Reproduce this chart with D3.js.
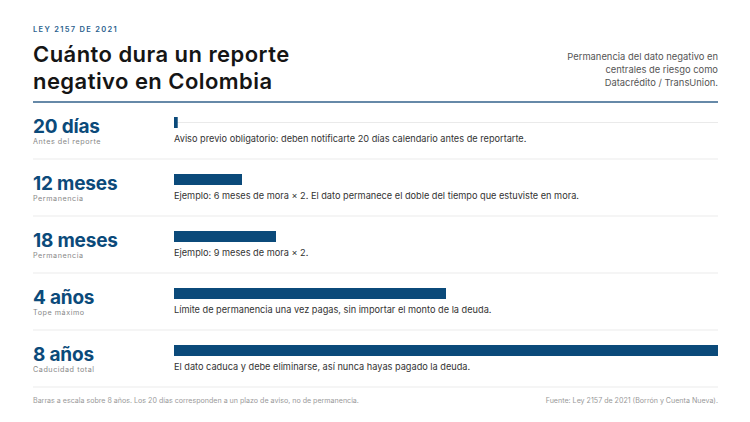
<!DOCTYPE html>
<html><head><meta charset="utf-8">
<script src="https://cdn.jsdelivr.net/npm/d3@7/dist/d3.min.js"></script>
<style>
html,body{margin:0;padding:0;background:#fff;}
svg{display:block;font-family:Inter, "Open Sans", sans-serif;}
</style></head>
<body><svg id="c" width="750" height="422"></svg>
<script>
const valueLabels = ["20 días","12 meses","18 meses","4 años","8 años"];
const subLabels = ["Antes del reporte","Permanencia","Permanencia","Tope máximo","Caducidad total"];
const yearsValues = [20/365, 1, 1.5, 4, 8];
const descriptions = [
  "Aviso previo obligatorio: deben notificarte 20 días calendario antes de reportarte.",
  "Ejemplo: 6 meses de mora × 2. El dato permanece el doble del tiempo que estuviste en mora.",
  "Ejemplo: 9 meses de mora × 2.",
  "Límite de permanencia una vez pagas, sin importar el monto de la deuda.",
  "El dato caduca y debe eliminarse, así nunca hayas pagado la deuda."
];
const kicker = "LEY 2157 DE 2021";
const titleLines = ["Cuánto dura un reporte","negativo en Colombia"];
const noteLines = ["Permanencia del dato negativo en","centrales de riesgo como","Datacrédito / TransUnion."];
const footLeft = "Barras a escala sobre 8 años. Los 20 días corresponden a un plazo de aviso, no de permanencia.";
const footRight = "Fuente: Ley 2157 de 2021 (Borrón y Cuenta Nueva).";

const svg = d3.select("#c");
const L = 33, R = 718, BX = 174;
const blue = "#0b4a7a";

svg.append("text").attr("x",L).attr("y",31.5).text(kicker)
  .attr("font-size",7.5).attr("font-weight",600).attr("letter-spacing",1.3).attr("fill","#2b5f8e");
const title = svg.append("text").attr("x",L).attr("y",61.5)
  .attr("font-size",22).attr("font-weight",600).attr("letter-spacing",0.45).attr("fill","#151515");
titleLines.forEach((t,i)=>title.append("tspan").attr("x",L).attr("dy",i===0?0:27).text(t));
const note = svg.append("text").attr("x",R).attr("y",60)
  .attr("text-anchor","end").attr("font-size",9.4).attr("fill","#555");
noteLines.forEach((t,i)=>note.append("tspan").attr("x",R).attr("dy",i===0?0:13).text(t));
svg.append("rect").attr("x",L).attr("y",101).attr("width",R-L).attr("height",2).attr("fill","#6689a8");

const x = d3.scaleLinear().domain([0,8]).range([BX,R]);
const y = d3.scaleBand().domain(d3.range(valueLabels.length)).range([102,387]).padding(0);
const rowH = y.bandwidth();

const rows = svg.selectAll("g.row").data(valueLabels).join("g").attr("class","row")
  .attr("transform",(d,i)=>`translate(0,${y(i)})`);

rows.append("line").attr("x1",L).attr("x2",R).attr("y1",rowH).attr("y2",rowH)
  .attr("stroke","#ebebeb").attr("stroke-width",1);

// track line for the notice row
rows.filter((d,i)=>i===0).append("line").attr("x1",BX).attr("x2",R).attr("y1",20.5).attr("y2",20.5)
  .attr("stroke","#eaeaea").attr("stroke-width",1);

rows.append("rect").attr("x",BX).attr("y",15).attr("height",11)
  .attr("width",(d,i)=>Math.max(3.5, x(yearsValues[i])-BX)).attr("fill",blue);

rows.append("text").attr("x",L).attr("y",31).text(d=>d)
  .attr("font-size",19).attr("font-weight",700).attr("letter-spacing",-0.2).attr("fill",blue);
rows.append("text").attr("x",L).attr("y",41.5).text((d,i)=>subLabels[i])
  .attr("font-size",7.2).attr("letter-spacing",0.55).attr("fill","#888");
rows.append("text").attr("x",BX).attr("y",40).text((d,i)=>descriptions[i])
  .attr("font-size",9.2).attr("fill","#333");

svg.append("text").attr("x",L).attr("y",403).text(footLeft).attr("font-size",7.1).attr("fill","#999");
svg.append("text").attr("x",R).attr("y",403).text(footRight).attr("text-anchor","end").attr("font-size",7.1).attr("fill","#999");
</script></body></html>
